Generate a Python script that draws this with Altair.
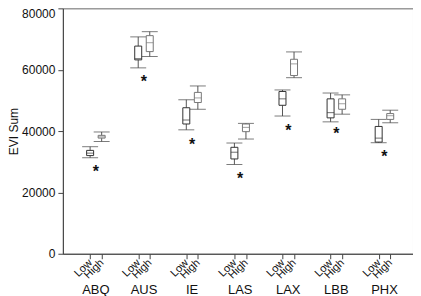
import altair as alt
import pandas as pd

cities = ["ABQ", "AUS", "IE", "LAS", "LAX", "LBB", "PHX"]
levels = ["Low", "High"]

low_wmin = [31300, 60600, 40400, 29100, 44900, 43000, 36200]
low_q1 = [32000, 63200, 42300, 30900, 48400, 44300, 36400]
low_med = [32800, 63600, 43600, 33100, 50500, 46000, 37700]
low_q3 = [33700, 67700, 47600, 34700, 52900, 50500, 41500]
low_wmax = [34900, 70700, 50200, 36100, 53400, 52400, 43800]

high_wmin = [36600, 64300, 47100, 37400, 57400, 45500, 42700]
high_q1 = [37700, 65900, 49300, 39800, 58100, 47100, 43800]
high_med = [38100, 68800, 50800, 41200, 61900, 48900, 45000]
high_q3 = [38600, 71100, 52600, 42300, 63400, 50500, 45700]
high_wmax = [39700, 72400, 54700, 42500, 65800, 51800, 46800]

star_y = [28000, 57400, 36600, 25700, 41400, 40300, 32900]

HIGH_OFFSET = 0.24
rows = []
for k, c in enumerate(cities):
    rows.append(dict(city=c, level="Low", pos=k, wmin=low_wmin[k], q1=low_q1[k],
                     med=low_med[k], q3=low_q3[k], wmax=low_wmax[k]))
    rows.append(dict(city=c, level="High", pos=k + HIGH_OFFSET, wmin=high_wmin[k], q1=high_q1[k],
                     med=high_med[k], q3=high_q3[k], wmax=high_wmax[k]))
df = pd.DataFrame(rows)

cdf = pd.DataFrame(dict(city=cities, pos=[k + HIGH_OFFSET / 2 for k in range(len(cities))],
                        star=star_y, sym=["*"] * len(cities)))

tick_vals = []
for k in range(len(cities)):
    tick_vals += [k, k + HIGH_OFFSET]

xscale = alt.Scale(domain=[-0.463, 6.61], nice=False, zero=False)
yscale = alt.Scale(domain=[0, 80000], nice=False)

xaxis = alt.Axis(values=tick_vals,
                 labelExpr="abs(datum.value - round(datum.value)) < 0.01 ? 'Low' : 'High'",
                 labelAngle=315, labelAlign="right", labelBaseline="middle",
                 labelFontSize=11, labelPadding=2, tickSize=5, grid=False, title=None,
                 labelOverlap=False, labelBound=False)
yaxis = alt.Axis(values=[0, 20000, 40000, 60000, 80000], format="d", title="EVI Sum",
                 grid=False, tickSize=5, labelFontSize=12, titleFontSize=12,
                 titleFontWeight="normal", titlePadding=1, labelPadding=3,
                 labelBaseline={"condition": {"test": "datum.value >= 80000", "value": "top"},
                                "value": "middle"})

base = alt.Chart(df).encode(x=alt.X("pos:Q", scale=xscale, axis=xaxis))

color = alt.Color("level:N", scale=alt.Scale(domain=levels, range=["#333333", "#777777"]), legend=None)

whisk = base.mark_rule(color="#555555", strokeWidth=1).encode(
    y=alt.Y("wmin:Q", scale=yscale, axis=yaxis), y2="wmax:Q")
cap_lo = base.mark_tick(orient="horizontal", size=16, thickness=1, color="#444444").encode(
    y=alt.Y("wmin:Q", scale=yscale, axis=yaxis))
cap_hi = base.mark_tick(orient="horizontal", size=16, thickness=1, color="#444444").encode(
    y=alt.Y("wmax:Q", scale=yscale, axis=yaxis))
box = base.mark_bar(size=7, fill="white", strokeWidth=1).encode(
    y=alt.Y("q1:Q", scale=yscale, axis=yaxis), y2="q3:Q", stroke=color)
med = base.mark_tick(orient="horizontal", size=7, thickness=1).encode(
    y=alt.Y("med:Q", scale=yscale, axis=yaxis), color=color)

cbase = alt.Chart(cdf).encode(x=alt.X("pos:Q", scale=xscale, axis=xaxis))
stars = cbase.mark_text(fontSize=16, fontWeight="bold", baseline="alphabetic", dy=9, color="#111111").encode(
    y=alt.Y("star:Q", scale=yscale, axis=yaxis), text="sym:N")
labels = cbase.mark_text(fontSize=13, baseline="middle", color="#111111").encode(
    y=alt.value(282), text="city:N")

chart = alt.layer(whisk, cap_lo, cap_hi, box, med, stars, labels).properties(
    width=351, height=246,
    padding={"left": 55, "top": 0, "right": 0, "bottom": 42},
    autosize=alt.AutoSizeParams(type="none"),
).configure(font="Liberation Sans").configure_view(stroke="#666666", strokeWidth=1).configure_axis(
    domainColor="#444444", tickColor="#444444", labelColor="#111111", titleColor="#111111")

chart.save("out.html", embed_options={"renderer": "svg", "actions": False})
